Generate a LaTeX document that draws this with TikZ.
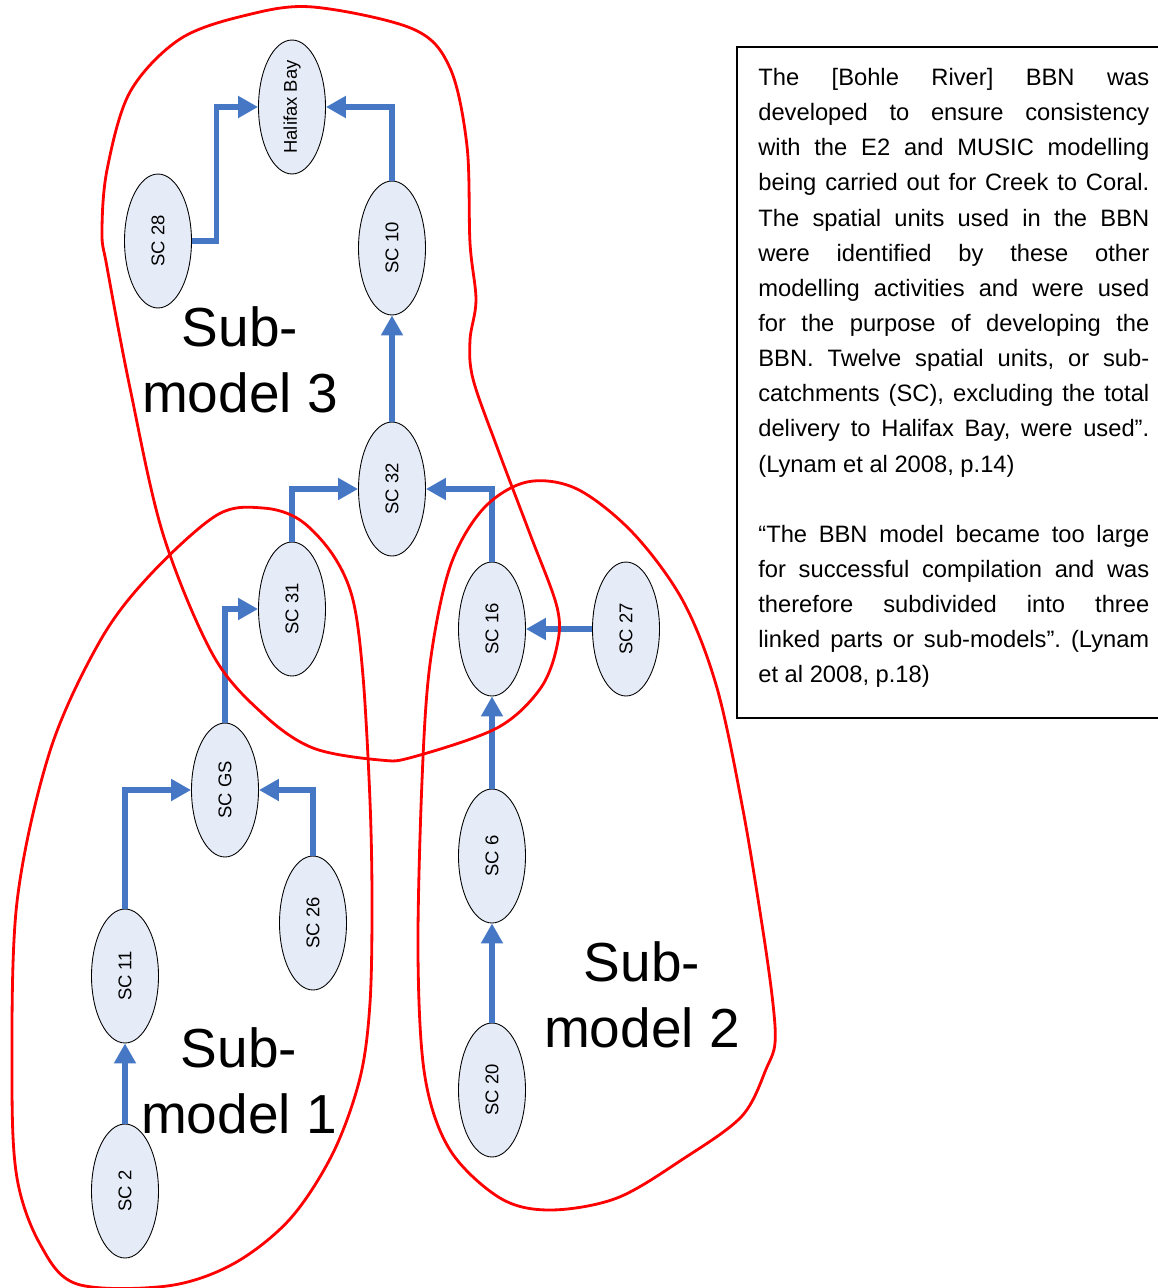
\documentclass[tikz,border=0pt]{standalone}
\usepackage{fontspec}
\setmainfont{Liberation Sans}
\usepackage{xcolor}
\usetikzlibrary{shapes.geometric,arrows.meta}

% Colors
\definecolor{unitfill}{HTML}{E6ECF7}
\definecolor{linkcolor}{HTML}{4677C4}

\newcommand\vlabel[1]{\rotatebox{90}{#1}}
\frenchspacing

\begin{document}
\begin{tikzpicture}[x=0.02cm, y=-0.02cm,
    unit/.style={ellipse, draw=black, line width=0.5pt, fill=unitfill,
      minimum width=1.34cm, minimum height=2.68cm, inner sep=0pt,
      font=\fontsize{10.5pt}{12pt}\selectfont},
    link/.style={draw=linkcolor, line width=2.9pt,
      -{Triangle[length=0.4cm,width=0.42cm]}},
    group/.style={draw=red, line width=1.6pt},
    bigtext/.style={align=center, font=\fontsize{31.3pt}{37.5pt}\selectfont}]

  \useasboundingbox (0,0) rectangle (1158,1288);

  % sub-catchments
  \node[unit] (hb)   at (292,107)  {\vlabel{Halifax Bay}};
  \node[unit] (sc28) at (158,241)  {\vlabel{SC 28}};
  \node[unit] (sc10) at (392,248)  {\vlabel{SC 10}};
  \node[unit] (sc32) at (392,489)  {\vlabel{SC 32}};
  \node[unit] (sc31) at (292,609)  {\vlabel{SC 31}};
  \node[unit] (sc16) at (492,629)  {\vlabel{SC 16}};
  \node[unit] (sc27) at (626,629)  {\vlabel{SC 27}};
  \node[unit] (scgs) at (225,790)  {\vlabel{SC GS}};
  \node[unit] (sc6)  at (492,856)  {\vlabel{SC 6}};
  \node[unit] (sc26) at (313,923)  {\vlabel{SC 26}};
  \node[unit] (sc11) at (125,976)  {\vlabel{SC 11}};
  \node[unit] (sc20) at (492,1090) {\vlabel{SC 20}};
  \node[unit] (sc2)  at (125,1191) {\vlabel{SC 2}};

  % flow
  \draw[link] (sc28.east) -- ++(25,0) |- (hb.west);
  \draw[link] (sc10.north) |- (hb.east);
  \draw[link] (sc32) -- (sc10);
  \draw[link] (sc31.north) |- (sc32.west);
  \draw[link] (sc16.north) |- (sc32.east);
  \draw[link] (sc27) -- (sc16);
  \draw[link] (sc6) -- (sc16);
  \draw[link] (sc20) -- (sc6);
  \draw[link] (scgs.north) |- (sc31.west);
  \draw[link] (sc11.north) |- (scgs.west);
  \draw[link] (sc26.north) |- (scgs.east);
  \draw[link] (sc2) -- (sc11);

  % sub-model 3
  \draw[group] plot[smooth cycle, tension=0.55] coordinates {
    (313,7) (413,29) (450,68) (467,146) (470,243) (476,300) (470,340)
    (473,379) (497,447) (530,534) (557,607) (557,646) (540,689)
    (497,728) (413,757) (380,760) (313,748) (263,714) (213,655)
    (163,534) (130,388) (107,267) (102,233) (107,170) (130,92)
    (180,39) (247,15)};
  % sub-model 1
  \draw[group] plot[smooth cycle, tension=0.55] coordinates {
    (217,515) (263,508) (300,520) (333,555) (353,600) (363,676)
    (370,801) (372,902) (370,1003) (360,1078) (333,1153) (290,1219)
    (233,1264) (167,1286) (77,1284) (40,1244) (17,1178) (12,1078)
    (17,902) (50,751) (100,641) (150,575)};
  % sub-model 2
  \draw[group] plot[smooth cycle, tension=0.55] coordinates {
    (527,482) (577,489) (633,533) (683,601) (717,688) (743,810)
    (763,931) (773,1004) (775,1043) (767,1067) (742,1116) (683,1159)
    (617,1198) (550,1210) (500,1198) (450,1150) (425,1077) (418,955)
    (422,781) (430,664) (450,567) (483,509)};

  \node[bigtext] (sub3) at (240,360)  {Sub-\\model 3};
  \node[bigtext] (sub1) at (239,1081) {Sub-\\model 1};
  \node[bigtext] (sub2) at (642,995)  {Sub-\\model 2};

  % quotation
  \node[anchor=north west, inner sep=0pt, text width=7.82cm, align=justify,
    font=\fontsize{13.5pt}{20pt}\selectfont] (quote) at (758,68)
    {The [Bohle River] BBN was\linebreak
     developed to ensure consistency\linebreak
     with the E2 and MUSIC modelling\linebreak
     being carried out for Creek to Coral.\linebreak
     The spatial units used in the BBN\linebreak
     were identified by these other\linebreak
     modelling activities and were used\linebreak
     for the purpose of developing the\linebreak
     BBN. Twelve spatial units, or sub-\linebreak
     catchments (SC), excluding the total\linebreak
     delivery to Halifax Bay, were used”.\linebreak
     (Lynam et al 2008, p.14)\par\vspace{20pt}
     “The BBN model became too large\linebreak
     for successful compilation and was\linebreak
     therefore subdivided into three\linebreak
     linked parts or sub-models”. (Lynam\linebreak
     et al 2008, p.18)};
  \draw[line width=0.6pt] (1158,47) -- (737,47) -- (737,718) -- (1158,718);

\end{tikzpicture}
\end{document}
